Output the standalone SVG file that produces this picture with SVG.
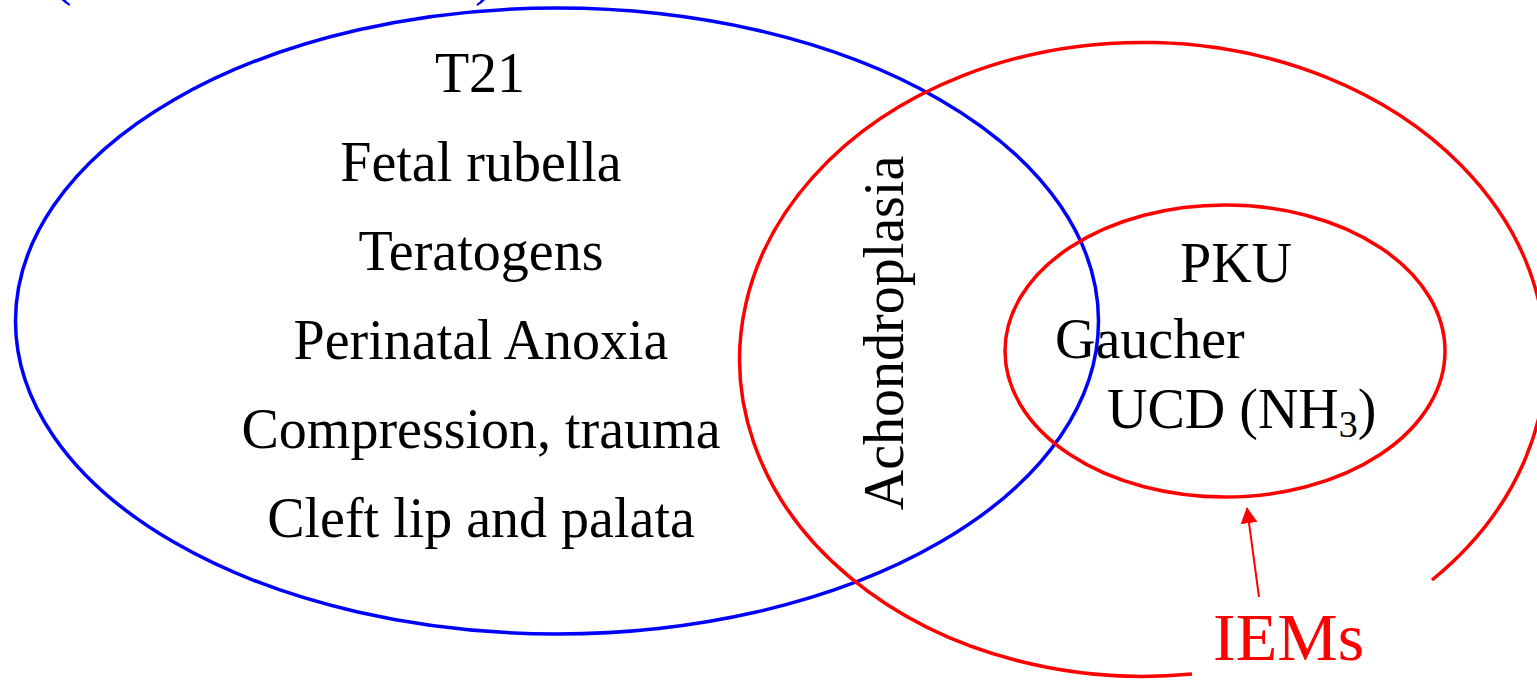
<svg xmlns="http://www.w3.org/2000/svg" width="1537" height="680" viewBox="0 0 1537 680">
  <style>
    .lbl { font-family: "Liberation Serif", "Times New Roman", serif; font-size: 56px; fill: #000; }
    .set { fill: none; stroke-width: 3.5; }
    .blue { stroke: #0000ff; }
    .red { stroke: #ff0000; }
  </style>
  <defs>
    <marker id="arrowhead" viewBox="0 0 10 10" refX="9.5" refY="5" markerWidth="16" markerHeight="17" markerUnits="userSpaceOnUse" orient="auto" preserveAspectRatio="none">
      <path d="M0,0 L10,5 L0,10 z" fill="#ff0000"/>
    </marker>
  </defs>
  <rect width="1537" height="680" fill="#ffffff"/>

  <!-- heading, mostly above the top edge -->
  <g id="heading" font-family="Liberation Serif, serif" font-size="56" fill="#0000ff">
    <text x="53" y="-6">(</text>
    <text x="475" y="-6">)</text>
  </g>

  <!-- developmental disorders set -->
  <g id="set-developmental">
    <ellipse class="set blue" cx="557" cy="321" rx="541.5" ry="313"/>
    <g text-anchor="middle">
      <text class="lbl" x="480" y="92">T21</text>
      <text class="lbl" x="481" y="181">Fetal rubella</text>
      <text class="lbl" x="481" y="270">Teratogens</text>
      <text class="lbl" x="481" y="359">Perinatal Anoxia</text>
      <text class="lbl" x="481" y="448">Compression, trauma</text>
      <text class="lbl" x="481" y="537">Cleft lip and palata</text>
    </g>
  </g>

  <!-- genetic disorders set, open at the lower right for its label -->
  <g id="set-genetic">
    <path class="set red" d="M1192,674 A403,317 0 1 1 1432,580"/>
    <text class="lbl" text-anchor="middle" transform="translate(903,333) rotate(-90)">Achondroplasia</text>
  </g>

  <!-- inborn errors of metabolism -->
  <g id="set-iem">
    <ellipse class="set red" cx="1225" cy="351" rx="220" ry="146"/>
    <text class="lbl" x="1236" y="282" text-anchor="middle">PKU</text>
    <text class="lbl" x="1055" y="358">Gaucher</text>
    <text class="lbl" x="1107" y="428">UCD (NH<tspan font-size="38" dy="9">3</tspan><tspan dy="-9">)</tspan></text>
  </g>

  <g id="label-iems">
    <text x="1213" y="660" font-family="Liberation Serif, serif" font-size="68" fill="#ff0000">IEMs</text>
  </g>

  <g id="connectors">
    <line x1="1259" y1="597" x2="1247" y2="508" stroke="#ff0000" stroke-width="2" marker-end="url(#arrowhead)"/>
  </g>
</svg>
